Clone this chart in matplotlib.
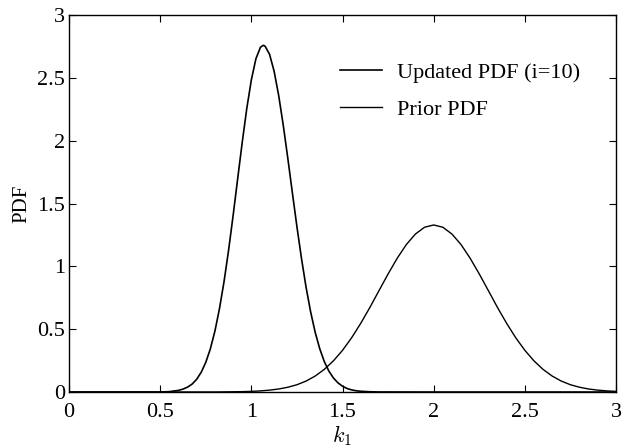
import matplotlib
matplotlib.use('Agg')
import matplotlib.pyplot as plt

# valores
upd_x = [0.0, 0.5, 0.55, 0.6, 0.625, 0.65, 0.675, 0.7, 0.725, 0.75, 0.775, 0.8, 0.825,
         0.85, 0.875, 0.9, 0.925, 0.95, 0.975, 1.0, 1.025, 1.05, 1.065, 1.075, 1.1,
         1.125, 1.15, 1.175, 1.2, 1.225, 1.25, 1.275, 1.3, 1.325, 1.35, 1.375, 1.4,
         1.425, 1.45, 1.475, 1.5, 1.525, 1.55, 1.575, 1.6, 1.65, 1.7, 2.0, 3.0]
upd_y = [0.0, 0.0, 0.003, 0.013, 0.023, 0.039, 0.063, 0.101, 0.157, 0.236, 0.343, 0.484, 0.662,
         0.877, 1.127, 1.405, 1.698, 1.988, 2.258, 2.485, 2.653, 2.745, 2.76, 2.754, 2.688,
         2.553, 2.360, 2.124, 1.861, 1.586, 1.316, 1.063, 0.835, 0.639, 0.476, 0.345, 0.243,
         0.167, 0.112, 0.073, 0.046, 0.028, 0.017, 0.010, 0.006, 0.002, 0.0005, 0.0, 0.0]

prior_x = [0.0, 0.8, 0.9, 0.95, 1.0, 1.05, 1.1, 1.15, 1.2, 1.25, 1.3, 1.35, 1.4, 1.45, 1.5,
           1.55, 1.6, 1.65, 1.7, 1.75, 1.8, 1.85, 1.9, 1.95, 2.0, 2.05, 2.1, 2.15, 2.2,
           2.25, 2.3, 2.35, 2.4, 2.45, 2.5, 2.55, 2.6, 2.65, 2.7, 2.75, 2.8, 2.85, 2.9,
           2.95, 3.0]
prior_y = [0.0, 0.0005, 0.002, 0.003, 0.005, 0.009, 0.015, 0.024, 0.038, 0.058, 0.087, 0.127,
           0.180, 0.248, 0.332, 0.432, 0.547, 0.673, 0.807, 0.940, 1.065, 1.174, 1.258, 1.312,
           1.330, 1.312, 1.258, 1.174, 1.065, 0.940, 0.807, 0.673, 0.547, 0.432, 0.332, 0.248,
           0.180, 0.127, 0.087, 0.058, 0.038, 0.024, 0.015, 0.009, 0.005]

ticks = [0, 0.5, 1, 1.5, 2, 2.5, 3]
tick_labels = ['0', '0.5', '1', '1.5', '2', '2.5', '3']

plt.rcParams['font.family'] = ['Liberation Serif', 'DejaVu Serif']
plt.rcParams['mathtext.fontset'] = 'cm'

fig = plt.figure(figsize=(6.24, 4.47), dpi=100)
ax = fig.add_axes([0.1106, 0.123, 0.8766, 0.843])

ax.plot(upd_x, upd_y, color='black', linewidth=1.2, label='Updated PDF (i=10)')
ax.plot(prior_x, prior_y, color='black', linewidth=1.0, label='Prior PDF')

ax.set_xlim(0, 3)
ax.set_ylim(0, 3)
ax.set_xticks(ticks)
ax.set_xticklabels(tick_labels)
ax.set_yticks(ticks)
ax.set_yticklabels(tick_labels)
ax.tick_params(direction='in', top=True, right=True, length=5, labelsize=16)
ax.tick_params(axis='x', pad=8)
ax.tick_params(axis='y', pad=3)
for s in ax.spines.values():
    s.set_linewidth(1.0)

ax.set_xlabel('$k_1$', fontsize=16, labelpad=1)
ax.set_ylabel('PDF', fontsize=15, labelpad=4)

ax.legend(loc='upper left', bbox_to_anchor=(0.495, 0.875), frameon=False, fontsize=16,
          borderpad=0, borderaxespad=0, handlelength=1.9, handletextpad=0.68,
          labelspacing=0.75)

plt.savefig('out.png', dpi=100)
